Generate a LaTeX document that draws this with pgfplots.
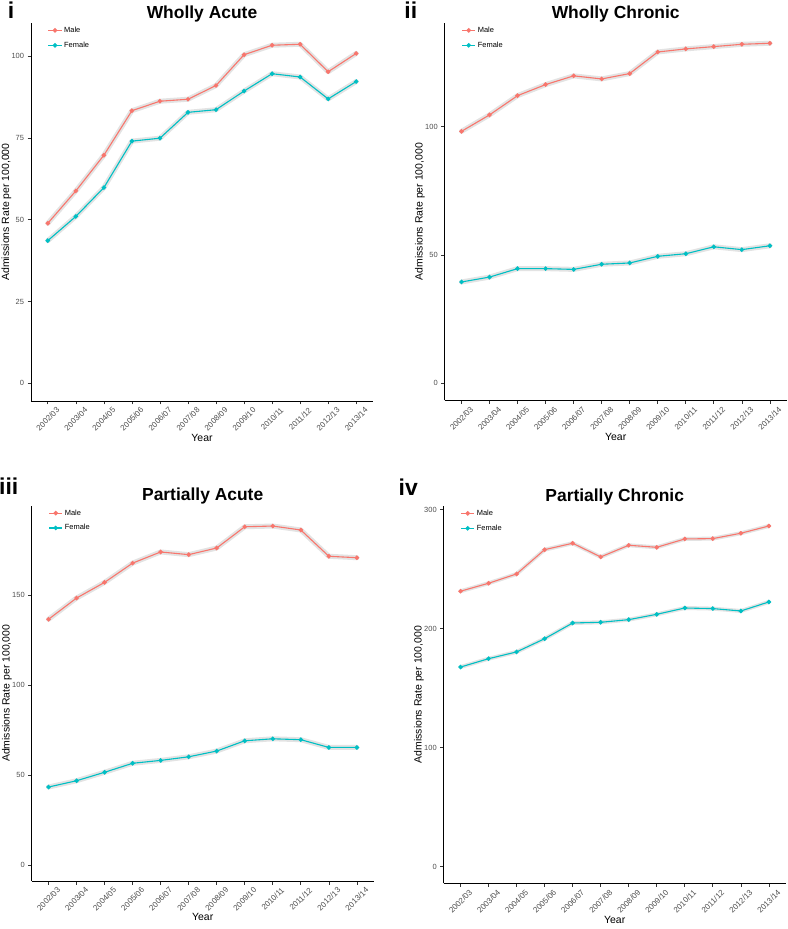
\documentclass[border=0pt]{standalone}
\usepackage{fontspec}
\setmainfont{Liberation Sans}
\usepackage{pgfplots}
\usepackage{pgfplotstable}
\pgfplotsset{compat=1.18}
\definecolor{male}{HTML}{F8766D}
\definecolor{female}{HTML}{00BFC4}
\definecolor{tickgrey}{HTML}{4D4D4D}
\definecolor{ribbon}{HTML}{E3E3E3}

% Admissions rate per 100,000 by year index (0 = 2002/03 ... 11 = 2013/14)
\pgfplotstableread{
x male female
0 48.9 43.6
1 58.8 51.0
2 69.7 59.8
3 83.3 74.0
4 86.2 74.9
5 86.8 82.8
6 91.0 83.6
7 100.4 89.3
8 103.3 94.6
9 103.6 93.6
10 95.2 86.9
11 100.8 92.2
}\tabWA

\pgfplotstableread{
x male female
0 98.2 39.5
1 104.6 41.4
2 112.1 44.7
3 116.4 44.7
4 119.8 44.4
5 118.6 46.4
6 120.7 46.9
7 129.1 49.5
8 130.3 50.5
9 131.2 53.2
10 132.1 52.1
11 132.5 53.6
}\tabWC

\pgfplotstableread{
x male female
0 136.7 43.5
1 148.5 47.0
2 157.2 51.7
3 167.9 56.7
4 174.1 58.3
5 172.6 60.3
6 176.3 63.5
7 188.1 69.2
8 188.5 70.3
9 186.3 69.8
10 171.7 65.5
11 170.9 65.5
}\tabPA

\pgfplotstableread{
x male female
0 231.3 167.6
1 238.0 174.6
2 245.8 180.3
3 266.2 191.4
4 271.6 204.6
5 260.1 205.2
6 269.9 207.4
7 268.2 211.9
8 275.2 217.2
9 275.5 216.7
10 280.0 214.7
11 286.1 222.3
}\tabPC

\pgfplotsset{
  panel/.style={
    scale only axis, width=342bp,
    /pgf/number format/assume math mode=true,
    axis x line*=bottom, axis y line*=left,
    axis line style={-, line width=0.9bp, black},
    xmin=-0.6, xmax=11.6,
    xtick={0,...,11},
    xticklabels={2002/03,2003/04,2004/05,2005/06,2006/07,2007/08,2008/09,2009/10,2010/11,2011/12,2012/13,2013/14},
    tick align=outside, major tick length=3.5bp,
    tick style={color=black!80, line width=0.7bp},
    ticklabel style={font=\fontsize{7.5}{9}\selectfont, color=tickgrey},
    xticklabel style={rotate=45, anchor=center, font=\fontsize{8}{9}\selectfont},
    xticklabel shift=14.5bp,
    xlabel={Year}, ylabel={Admissions Rate per 100,000},
    label style={font=\fontsize{10.5}{12}\selectfont},
    xlabel style={at={(axis description cs:0.5,-0.106)}, anchor=base},
    ylabel style={at={(axis description cs:-0.0643,0.5)}, anchor=base},
    title style={at={(axis description cs:0.5,1)}, anchor=base, yshift=-1bp,
      font=\bfseries\fontsize{17.5}{20}\selectfont},
    legend style={draw=none, fill=none, at={(axis description cs:0.04,0.99)},
      yshift=4bp, anchor=north west, font=\fontsize{7.5}{9}\selectfont, row sep=4bp},
    legend cell align=left,
    legend image code/.code={
      \draw[mark repeat=2, mark phase=2, #1] plot coordinates {(0bp,0bp) (6.6bp,0bp) (13.2bp,0bp)};},
  },
  band/.style={forget plot, ribbon, line width=5bp, line join=round, line cap=round},
  mline/.style={male, line width=1.1bp, mark=*, mark size=1.7bp},
  fline/.style={female, line width=1.1bp, mark=*, mark size=1.7bp},
}

\begin{document}
\begin{tikzpicture}
\path[use as bounding box] (0,0) rectangle (788bp,929bp);

% i
\begin{axis}[panel, at={(31bp,528bp)}, anchor=south west, height=378bp,
  ymin=-5.4, ymax=110.1, ytick={0,25,50,75,100}, title={Wholly Acute}]
\addplot[band] table[x=x, y=male] {\tabWA};
\addplot[band] table[x=x, y=female] {\tabWA};
\addplot[mline] table[x=x, y=male] {\tabWA};
\addplot[fline] table[x=x, y=female] {\tabWA};
\legend{Male, Female}
\end{axis}

% ii
\begin{axis}[panel, at={(444.7bp,528.7bp)}, anchor=south west, height=377.3bp,
  ymin=-6.6, ymax=140.4, ytick={0,50,100}, title={Wholly Chronic}]
\addplot[band] table[x=x, y=male] {\tabWC};
\addplot[band] table[x=x, y=female] {\tabWC};
\addplot[mline] table[x=x, y=male] {\tabWC};
\addplot[fline] table[x=x, y=female] {\tabWC};
\legend{Male, Female}
\end{axis}

% iii
\begin{axis}[panel, at={(31.7bp,48bp)}, anchor=south west, height=375.3bp,
  ymin=-8.7, ymax=199.8, ytick={0,50,100,150}, title={Partially Acute}]
\addplot[band] table[x=x, y=male] {\tabPA};
\addplot[band] table[x=x, y=female] {\tabPA};
\addplot[mline] table[x=x, y=male] {\tabPA};
\addplot[fline] table[x=x, y=female] {\tabPA};
\legend{Male, Female}
\end{axis}

% iv
\begin{axis}[panel, at={(443.7bp,45.7bp)}, anchor=south west, height=377.3bp,
  ymin=-14.1, ymax=302.9, ytick={0,100,200,300}, title={Partially Chronic}]
\addplot[band, line width=4bp] table[x=x, y=male] {\tabPC};
\addplot[band, line width=4bp] table[x=x, y=female] {\tabPC};
\addplot[mline] table[x=x, y=male] {\tabPC};
\addplot[fline] table[x=x, y=female] {\tabPC};
\legend{Male, Female}
\end{axis}

\begin{scope}[every node/.style={inner sep=0pt, anchor=base west, font=\bfseries\fontsize{23}{26}\selectfont}]
\node at (7.8bp,910.7bp) {i};
\node at (404.2bp,910.7bp) {ii};
\node at (-1bp,434bp) {iii};
\node at (398.5bp,433bp) {iv};
\end{scope}
\end{tikzpicture}
\end{document}
